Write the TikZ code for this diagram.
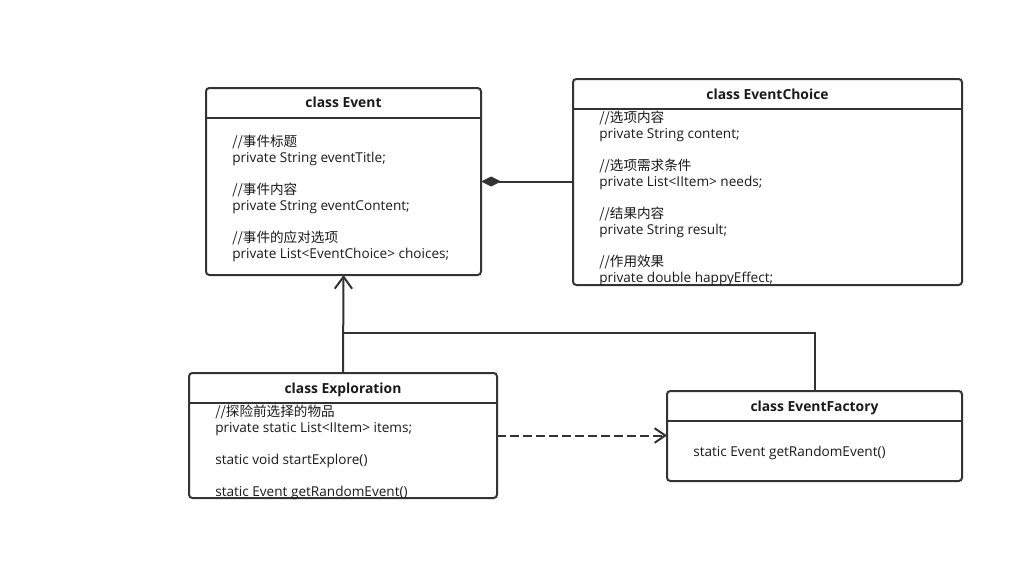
\documentclass[tikz,border=0pt]{standalone}
\usepackage{fontspec}
\setmainfont{Open Sans}
\newfontfamily\cjk{Noto Sans CJK SC}
\usetikzlibrary{arrows.meta}
\definecolor{lc}{HTML}{333333}
\definecolor{tc}{HTML}{1A1A1A}
\begin{document}
\begin{tikzpicture}[x=0.75pt,y=-0.75pt,
  cls/.style={draw=lc, line width=1.5pt, rounded corners=2.5pt, inner sep=0pt, outer sep=0pt, anchor=north west},
  ttl/.style={font=\bfseries\fontsize{10.4}{12}\selectfont, text=tc, inner sep=0pt, anchor=base},
  txt/.style={font=\fontsize{10.2}{12}\selectfont, text=tc, inner sep=0pt, anchor=base west, align=left},
  hdr/.style={draw=lc, line width=1.5pt},
  conn/.style={draw=lc, line width=1.5pt},
  inh/.style={-{Straight Barb[length=9pt,width=13pt,line width=1.5pt]}},
  dep/.style={dash pattern=on 6.75pt off 3pt, -{Straight Barb[length=8pt,width=11pt,line width=1.5pt]}},
  comp/.style={-{Diamond[length=15pt,width=7.5pt]}}
]
\useasboundingbox (0,0) rectangle (1023,560);
\fill[white] (0,0) rectangle (1023,560);

% class Event
\node[cls, minimum width=206.25pt, minimum height=140.25pt] (ev) at (206,88) {};
\draw[hdr] ([yshift=-22.5pt]ev.north west) -- ([yshift=-22.5pt]ev.north east);
\node[ttl] (evt) at (343.5,108) {class Event};
\node[txt] (evb) at (232,258) {{\cjk //事件标题}\\private String eventTitle;\\[12pt]{\cjk //事件内容}\\private String eventContent;\\[12pt]{\cjk //事件的应对选项}\\private List<EventChoice> choices;};

% class EventChoice
\node[cls, minimum width=291.75pt, minimum height=154.5pt] (ec) at (573,79) {};
\draw[hdr] ([yshift=-22.5pt]ec.north west) -- ([yshift=-22.5pt]ec.north east);
\node[ttl] (ect) at (767.5,99) {class EventChoice};
\node[txt] (ecb) at (599,282) {{\cjk //选项内容}\\private String content;\\[12pt]{\cjk //选项需求条件}\\private List<IItem> needs;\\[12pt]{\cjk //结果内容}\\private String result;\\[12pt]{\cjk //作用效果}\\private double happyEffect;};

% class Exploration
\node[cls, minimum width=231pt, minimum height=93.75pt] (ex) at (189,373) {};
\draw[hdr] ([yshift=-22.5pt]ex.north west) -- ([yshift=-22.5pt]ex.north east);
\node[ttl] (ext) at (343,393) {class Exploration};
\node[txt] (exb) at (215,496) {{\cjk //探险前选择的物品}\\private static List<IItem> items;\\[12pt]static void startExplore()\\[12pt]static Event getRandomEvent()};

% class EventFactory
\node[cls, minimum width=221.25pt, minimum height=67.5pt] (ef) at (667,391) {};
\draw[hdr] ([yshift=-22.5pt]ef.north west) -- ([yshift=-22.5pt]ef.north east);
\node[ttl] (eft) at (814.5,411) {class EventFactory};
\node[txt] (efb) at (693,456) {static Event getRandomEvent()};

% connectors
\draw[conn, comp] (ec.west |- ev.east) -- (ev.east);
\draw[conn, inh] (ex.north) -- (ev.south);
\coordinate (j) at (343,333);
\draw[conn] (ef.north) |- (j);
\draw[conn, dep] (ex.east) -- (ef.west |- ex.east);
\end{tikzpicture}
\end{document}
